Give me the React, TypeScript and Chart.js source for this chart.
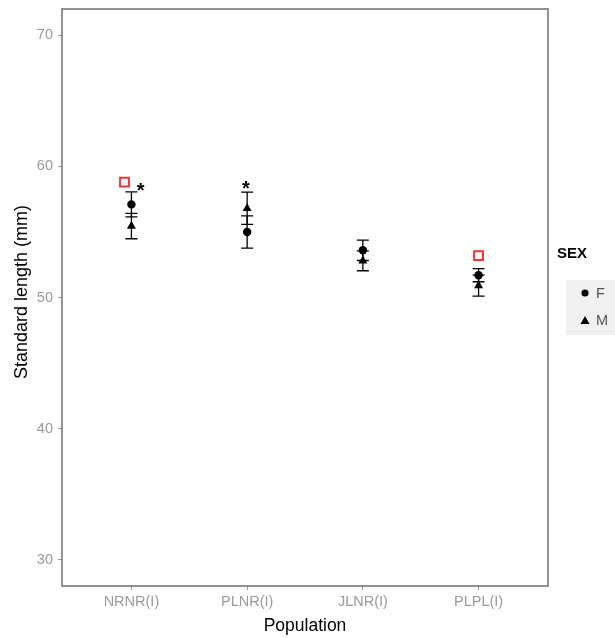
import React, { useEffect, useRef } from "react";
import { Chart, registerables } from "chart.js";

Chart.register(...registerables);

const categories = ["NRNR(I)", "PLNR(I)", "JLNR(I)", "PLPL(I)"];
const femaleMeans = [57.1, 55.0, 53.6, 51.7];
const femaleErr = [0.95, 1.23, 0.78, 0.5];
const maleMeans = [55.45, 56.8, 52.8, 50.9];
const maleErr = [0.97, 1.23, 0.76, 0.8];
const refX = [0.94, 4.0];
const refValues = [58.8, 53.2];
const starX = [1.08, 1.99];
const starValues = [58.6, 58.7];
const yTicks = [30, 40, 50, 60, 70];
const legendLabels = ["F", "M"];

const FONT = '"Liberation Sans", Arial, sans-serif';

const errorBarPlugin = {
  id: "errorBars",
  beforeDatasetsDraw(chart: any) {
    const { ctx, scales } = chart;
    const xs = scales.x;
    const ys = scales.y;
    ctx.save();
    ctx.strokeStyle = "#000";
    ctx.lineWidth = 1.3;
    const draw = (means: number[], errs: number[]) => {
      means.forEach((m, i) => {
        const px = xs.getPixelForValue(i + 1);
        const top = ys.getPixelForValue(m + errs[i]);
        const bot = ys.getPixelForValue(m - errs[i]);
        ctx.beginPath();
        ctx.moveTo(px, top);
        ctx.lineTo(px, bot);
        ctx.moveTo(px - 6, top);
        ctx.lineTo(px + 6, top);
        ctx.moveTo(px - 6, bot);
        ctx.lineTo(px + 6, bot);
        ctx.stroke();
      });
    };
    draw(femaleMeans, femaleErr);
    draw(maleMeans, maleErr);
    ctx.restore();
  },
};

const decorPlugin = {
  id: "decor",
  afterDraw(chart: any) {
    const { ctx, chartArea, scales } = chart;
    ctx.save();
    // panel border
    ctx.strokeStyle = "#777";
    ctx.lineWidth = 1.6;
    ctx.strokeRect(chartArea.left, chartArea.top, chartArea.right - chartArea.left, chartArea.bottom - chartArea.top);

    // stars
    ctx.fillStyle = "#000";
    ctx.font = "bold 20px " + FONT;
    ctx.textAlign = "center";
    ctx.textBaseline = "alphabetic";
    starX.forEach((x, i) => {
      const px = scales.x.getPixelForValue(x);
      const py = scales.y.getPixelForValue(starValues[i]);
      ctx.fillText("*", px, py + 12);
    });

    // axis titles
    ctx.font = "17.5px " + FONT;
    ctx.textBaseline = "middle";
    ctx.fillText("Population", (chartArea.left + chartArea.right) / 2, 626);
    ctx.save();
    ctx.font = "18px " + FONT;
    ctx.translate(22, 292);
    ctx.rotate(-Math.PI / 2);
    ctx.fillText("Standard length (mm)", 0, 0);
    ctx.restore();

    // legend
    ctx.textAlign = "left";
    ctx.font = "bold 15px " + FONT;
    ctx.fillText("SEX", 557, 254);
    ctx.fillStyle = "#f0f0f0";
    ctx.fillRect(566, 280, 49, 55);
    ctx.fillStyle = "#000";
    ctx.beginPath();
    ctx.arc(585, 293, 3.6, 0, Math.PI * 2);
    ctx.fill();
    ctx.beginPath();
    ctx.moveTo(585, 316);
    ctx.lineTo(589.5, 324);
    ctx.lineTo(580.5, 324);
    ctx.closePath();
    ctx.fill();
    ctx.fillStyle = "#555";
    ctx.font = "14.5px " + FONT;
    ctx.fillText(legendLabels[0], 596, 294);
    ctx.fillText(legendLabels[1], 596, 321);
    ctx.restore();
  },
};

export default function App() {
  const ref = useRef<HTMLCanvasElement>(null);
  useEffect(() => {
    if (!ref.current) return;
    const chart = new Chart(ref.current, {
      type: "scatter",
      data: {
        datasets: [
          {
            label: legendLabels[0],
            data: femaleMeans.map((v, i) => ({ x: i + 1, y: v })),
            pointStyle: "circle",
            pointRadius: 4.2,
            backgroundColor: "#000",
            borderColor: "#000",
            borderWidth: 0,
          },
          {
            label: legendLabels[1],
            data: maleMeans.map((v, i) => ({ x: i + 1, y: v })),
            pointStyle: "triangle",
            pointRadius: 5.2,
            backgroundColor: "#000",
            borderColor: "#000",
            borderWidth: 0,
          },
          {
            label: "ref",
            data: refValues.map((v, i) => ({ x: refX[i], y: v })),
            pointStyle: "rect",
            pointRadius: 6.2,
            backgroundColor: "rgba(0,0,0,0)",
            borderColor: "#ee3333",
            borderWidth: 2,
          },
        ],
      },
      options: {
        animation: false,
        responsive: false,
        devicePixelRatio: 1,
        layout: { padding: { left: 0, right: 67, top: 9, bottom: 0 } },
        plugins: { legend: { display: false }, tooltip: { enabled: false } },
        scales: {
          x: {
            type: "linear",
            min: 0.4,
            max: 4.6,
            afterBuildTicks: (s: any) => {
              s.ticks = categories.map((_, i) => ({ value: i + 1 }));
            },
            afterFit: (s: any) => {
              s.height = 52;
              s.paddingLeft = 0;
              s.paddingRight = 0;
            },
            ticks: {
              callback: (_v: any, i: number) => categories[i],
              color: "#9a9a9a",
              font: { family: FONT, size: 14.5 },
              padding: 3,
              autoSkip: false,
              maxRotation: 0,
            },
            grid: { drawOnChartArea: false, drawTicks: true, tickLength: 4, color: "#999", tickColor: "#999" },
            border: { display: false },
          },
          y: {
            type: "linear",
            min: 28,
            max: 72,
            afterBuildTicks: (s: any) => {
              s.ticks = yTicks.map((v) => ({ value: v }));
            },
            afterFit: (s: any) => {
              s.width = 62;
              s.paddingTop = 0;
              s.paddingBottom = 0;
            },
            ticks: {
              color: "#9a9a9a",
              font: { family: FONT, size: 14.5 },
              padding: 5,
            },
            grid: { drawOnChartArea: false, drawTicks: true, tickLength: 4, color: "#999", tickColor: "#999" },
            border: { display: false },
          },
        },
      },
      plugins: [errorBarPlugin, decorPlugin],
    } as any);
    return () => chart.destroy();
  }, []);
  return (
    <div style={{ position: "absolute", left: 0, top: 0, width: 615, height: 638, background: "#fff" }}>
      <canvas ref={ref} width={615} height={638} style={{ width: 615, height: 638 }} />
    </div>
  );
}
